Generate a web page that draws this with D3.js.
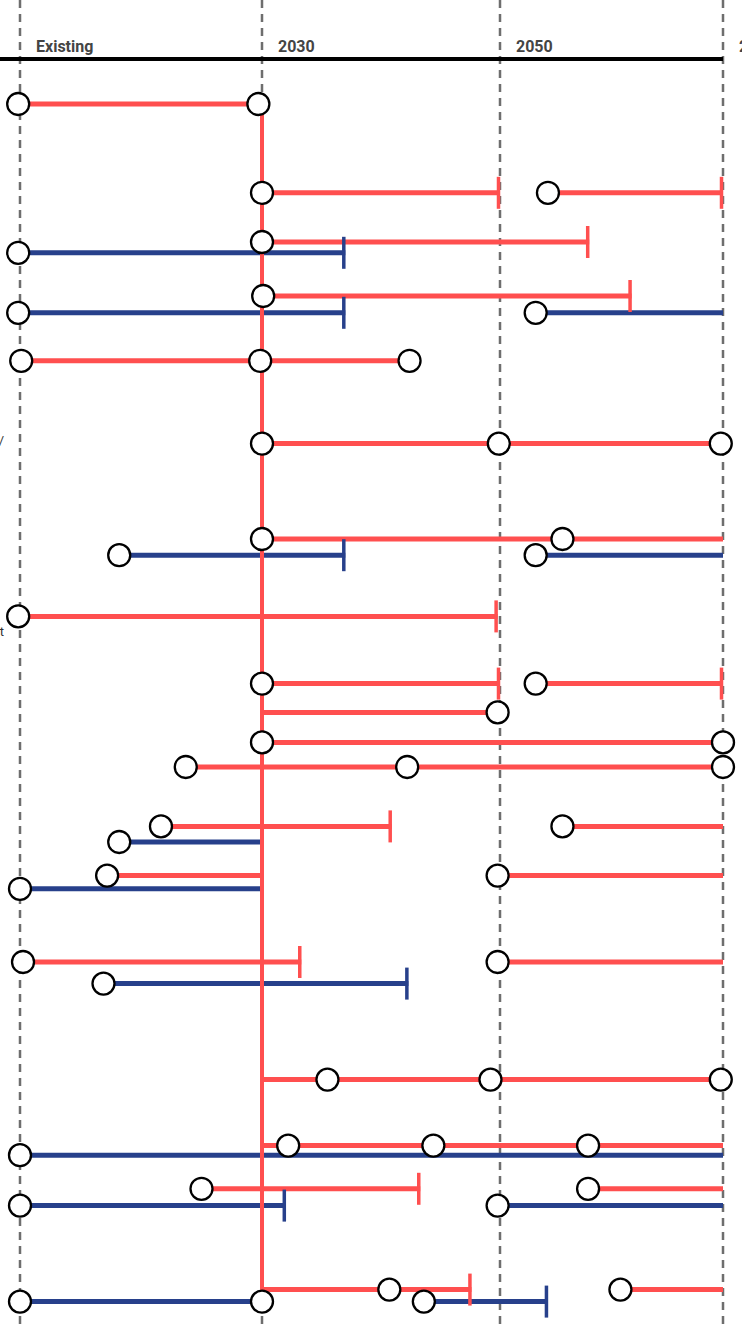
<!DOCTYPE html>
<html>
<head>
	<meta charset="utf-8">
	<script src="https://d3js.org/d3.v7.min.js"></script>
	<style>
		body { margin: 0; background: #fff; }
	</style>
</head>
<body>
	<div id="chart"></div>
	<script>

	// timeline columns
	const tickLabels = ["Existing", "2030", "2050", "2070"]
	const tickYears = [2010, 2030, 2050, 2070]

	// lanes (row positions, 0..100 from top to bottom)
	const lanes = [0, 7.4, 11.5, 12.4, 16, 17.4, 21.4, 28.3, 36.25, 37.6, 42.7, 48.3, 50.7,
		53.2, 55.25, 60.2, 61.5, 64.3, 65.4, 71.5, 73.3, 81.3, 86.8, 87.6, 90.4, 91.8, 98.8, 99.8]

	// segments: [lane index, series, from, to, cap at end]
	const segments = [
		[0, "a", 2010, 2030, false],
		[1, "a", 2030, 2050, true], [1, "a", 2054.3, 2070, true],
		[2, "a", 2030, 2058, true],
		[3, "b", 2010, 2037, true],
		[4, "a", 2030, 2061.8, true],
		[5, "b", 2010, 2037, true], [5, "b", 2053.2, 2070, false],
		[6, "a", 2010, 2042.4, false],
		[7, "a", 2030, 2070, false],
		[8, "a", 2030, 2070, false],
		[9, "b", 2018.2, 2037, true], [9, "b", 2053.2, 2070, false],
		[10, "a", 2010, 2049.8, true],
		[11, "a", 2030, 2050, true], [11, "a", 2053.2, 2070, true],
		[12, "a", 2030, 2049.8, false],
		[13, "a", 2030, 2070, false],
		[14, "a", 2023.7, 2070, false],
		[15, "a", 2021.65, 2040.9, true], [15, "a", 2055.6, 2070, false],
		[16, "b", 2018.2, 2030, false],
		[17, "a", 2017.2, 2030, false], [17, "a", 2049.8, 2070, false],
		[18, "b", 2010, 2030, false],
		[19, "a", 2010.2, 2033.3, true], [19, "a", 2049.8, 2070, false],
		[20, "b", 2016.9, 2042.3, true],
		[21, "a", 2030, 2070, false],
		[22, "a", 2030, 2070, false],
		[23, "b", 2010, 2070, false],
		[24, "a", 2025, 2043.3, true], [24, "a", 2057.9, 2070, false],
		[25, "b", 2010, 2032, true], [25, "b", 2049.8, 2070, false],
		[26, "a", 2030, 2047.6, true], [26, "a", 2060.8, 2070, false],
		[27, "b", 2010, 2030, false], [27, "b", 2043.6, 2054.3, true]
	]

	// milestones: [lane index, year]
	const points = [
		[0, 2009.85], [0, 2029.7],
		[1, 2030], [1, 2054.3],
		[2, 2030], [3, 2009.85], [4, 2030.1],
		[5, 2009.85], [5, 2053.2],
		[6, 2010.1], [6, 2029.85], [6, 2042.4],
		[7, 2030], [7, 2049.9], [7, 2069.8],
		[8, 2030], [8, 2055.6],
		[9, 2018.2], [9, 2053.2],
		[10, 2009.85],
		[11, 2030], [11, 2053.2],
		[12, 2049.8],
		[13, 2030], [13, 2070],
		[14, 2023.7], [14, 2042.2], [14, 2070],
		[15, 2021.65], [15, 2055.6],
		[16, 2018.2],
		[17, 2017.2], [17, 2049.8],
		[18, 2010],
		[19, 2010.25], [19, 2049.8],
		[20, 2016.9],
		[21, 2035.5], [21, 2049.2], [21, 2069.8],
		[22, 2032.2], [22, 2044.4], [22, 2057.9],
		[23, 2010],
		[24, 2025], [24, 2057.9],
		[25, 2010], [25, 2049.8],
		[26, 2040.7], [26, 2060.8],
		[27, 2010], [27, 2030], [27, 2043.6]
	]

	// main trunk at 2030 from first to the red lane near the bottom
	const trunkYear = 2030
	const trunkLanes = [0, 98.8]

	// row labels (mostly outside the visible area)
	const rowLabels = [["Bus/", 28.4], ["Freight", 44.3]]

	const width = 742
	const height = 1329
	const colors = { a: "#ff4f4f", b: "#27408b" }

	const x = d3.scaleLinear().domain(tickYears).range([20, 262, 500, 723])
	const y = d3.scaleLinear().domain([0, 100]).range([104, 1304])

	const svg = d3.select("#chart")
	  .append("svg")
	    .attr("width", width)
	    .attr("height", height)
	    .style("font-family", "Roboto, sans-serif")

	// dashed column lines
	svg.append("g")
	  .selectAll("line")
	  .data(tickYears)
	  .join("line")
	    .attr("x1", d => x(d))
	    .attr("x2", d => x(d))
	    .attr("y1", 0)
	    .attr("y2", height)
	    .attr("stroke", "#6e6e6e")
	    .attr("stroke-width", 2.5)
	    .attr("stroke-dasharray", "8,6")

	// header axis
	svg.append("line")
	    .attr("x1", 0)
	    .attr("x2", x(2070))
	    .attr("y1", 59)
	    .attr("y2", 59)
	    .attr("stroke", "#000")
	    .attr("stroke-width", 4)

	svg.append("g")
	  .selectAll("text")
	  .data(tickYears)
	  .join("text")
	    .attr("x", d => x(d) + 16)
	    .attr("y", 52)
	    .attr("fill", "#444")
	    .style("font-size", "16px")
	    .style("font-weight", "bold")
	    .text((d, i) => tickLabels[i])

	// row labels
	svg.append("g")
	  .selectAll("text")
	  .data(rowLabels)
	  .join("text")
	    .attr("x", 4)
	    .attr("y", d => y(d[1]))
	    .attr("text-anchor", "end")
	    .attr("fill", "#333")
	    .style("font-size", "13px")
	    .text(d => d[0])

	// horizontal segments
	svg.append("g")
	  .selectAll("line")
	  .data(segments)
	  .join("line")
	    .attr("x1", d => x(d[2]))
	    .attr("x2", d => x(d[3]))
	    .attr("y1", d => y(lanes[d[0]]))
	    .attr("y2", d => y(lanes[d[0]]))
	    .attr("stroke", d => colors[d[1]])
	    .attr("stroke-width", 5)

	// trunk
	svg.append("line")
	    .attr("x1", x(trunkYear))
	    .attr("x2", x(trunkYear))
	    .attr("y1", y(trunkLanes[0]))
	    .attr("y2", y(trunkLanes[1]) + 2.5)
	    .attr("stroke", colors.a)
	    .attr("stroke-width", 4)

	// end caps
	svg.append("g")
	  .selectAll("line")
	  .data(segments.filter(d => d[4]))
	  .join("line")
	    .attr("x1", d => x(d[3]) - 1.5)
	    .attr("x2", d => x(d[3]) - 1.5)
	    .attr("y1", d => y(lanes[d[0]]) - 16)
	    .attr("y2", d => y(lanes[d[0]]) + 16)
	    .attr("stroke", d => colors[d[1]])
	    .attr("stroke-width", 3.5)

	// milestone circles
	svg.append("g")
	  .selectAll("circle")
	  .data(points)
	  .join("circle")
	    .attr("cx", d => x(d[1]))
	    .attr("cy", d => y(lanes[d[0]]))
	    .attr("r", 11)
	    .attr("fill", "#fff")
	    .attr("stroke", "#000")
	    .attr("stroke-width", 2.3)

	</script>
</body>
</html>
